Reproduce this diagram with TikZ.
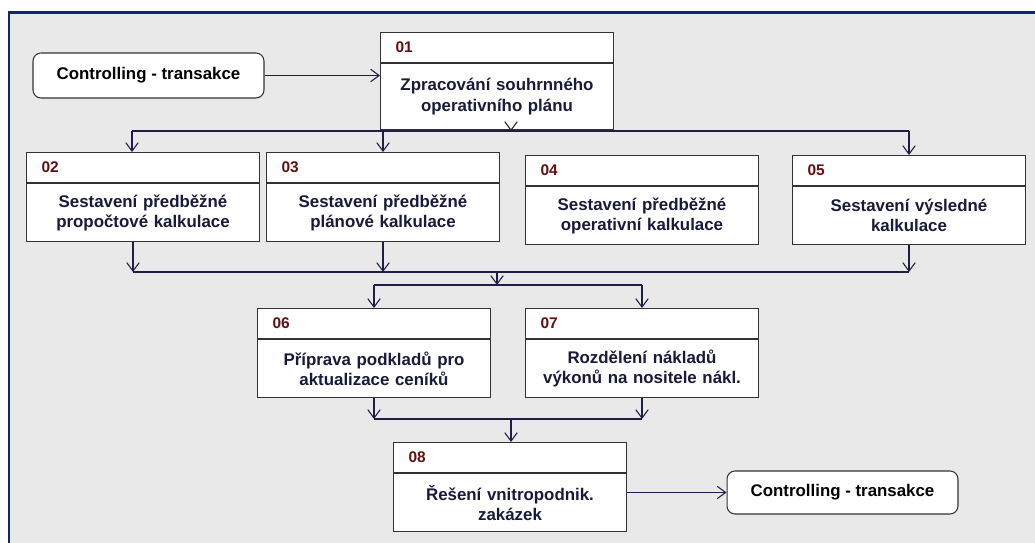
\documentclass[tikz,border=0pt]{standalone}
\usepackage{fontspec}
\setmainfont{Liberation Sans}
\usepackage{xcolor}
\usetikzlibrary{arrows.meta, positioning}
\definecolor{panelgray}{RGB}{233,233,233}
\definecolor{framenavy}{RGB}{16,40,105}
\definecolor{linenavy}{RGB}{30,30,70}
\definecolor{numred}{RGB}{100,15,15}
\definecolor{textnavy}{RGB}{25,25,60}

\begin{document}
\begin{tikzpicture}[x=0.02cm,y=-0.02cm,
  >={Straight Barb[length=1.7mm,width=2.5mm]},
  hdr/.style={draw=black!80,fill=white,anchor=north west,line width=0.6pt,
    minimum width=4.66cm,minimum height=0.6cm,text width=4.06cm,
    inner xsep=0.3cm,align=left,text=numred,
    font=\bfseries\fontsize{8.8}{10}\selectfont},
  bodybox/.style={draw=black!80,fill=white,line width=0.6pt,
    minimum width=4.66cm,minimum height=1.16cm,text width=4.4cm,
    inner xsep=0.13cm,align=center,text=textnavy,below=0pt of #1,
    font=\bfseries\fontsize{9.6}{11.4}\selectfont},
  ctrl/.style={draw=black!80,fill=white,rounded corners=0.16cm,line width=0.6pt,
    minimum width=4.62cm,minimum height=0.9cm,
    font=\bfseries\fontsize{9.6}{11}\selectfont},
  conn/.style={draw=linenavy,line width=0.6pt}]
  \useasboundingbox (0,0) rectangle (1035,543);
  \fill[panelgray] (9,13) rectangle (1035,543);
  \draw[framenavy,line width=1.7pt] (1035,13) -- (9,13) -- (9,543);

  \node[ctrl] (cL) at (148.5,75.5) {Controlling - transakce};
  \node[hdr] (h01) at (380,32) {01};
  \node[bodybox=h01,minimum height=1.32cm] (b01) {Zpracování souhrnného\\operativního plánu};

  \node[hdr] (h02) at (26,152) {02};
  \node[bodybox=h02] (b02) {Sestavení předběžné\\propočtové kalkulace};
  \node[hdr] (h03) at (266,152) {03};
  \node[bodybox=h03] (b03) {Sestavení předběžné\\plánové kalkulace};
  \node[hdr] (h04) at (525,155) {04};
  \node[bodybox=h04] (b04) {Sestavení předběžné\\operativní kalkulace};
  \node[hdr] (h05) at (792,155) {05};
  \node[bodybox=h05] (b05) {Sestavení výsledné\\kalkulace};

  \node[hdr] (h06) at (257,308) {06};
  \node[bodybox=h06] (b06) {Příprava podkladů pro\\aktualizace ceníků};
  \node[hdr] (h07) at (525,308) {07};
  \node[bodybox=h07] (b07) {Rozdělení nákladů\\výkonů na nositele nákl.};

  \node[hdr] (h08) at (393,442) {08};
  \node[bodybox=h08] (b08) {Řešení vnitropodnik.\\zakázek};
  \node[ctrl,minimum height=0.86cm] (cR) at (842.5,492.5) {Controlling - transakce};

  \coordinate (jA) at (511,131);
  \coordinate (busA) at (132,131);
  \coordinate (busB) at (133,272);
  \coordinate (jB) at (497,272);
  \coordinate (busC) at (497,285);
  \coordinate (busD) at (511,419);

  \draw[conn,->] (cL.east) -- (cL.east -| b01.west);
  \draw[conn,->] (b01.south -| jA) -- (jA);
  \draw[conn] (busA) -- (h05.north |- busA);
  \draw[conn,->] (busA) -- (busA |- h02.north);
  \draw[conn,->] (h03.north |- busA) -- (h03.north);
  \draw[conn,->] (h05.north |- busA) -- (h05.north);

  \draw[conn,->] (b02.south -| busB) -- (busB);
  \draw[conn,->] (b03.south) -- (b03.south |- busB);
  \draw[conn,->] (b05.south) -- (b05.south |- busB);
  \draw[conn] (busB) -- (b05.south |- busB);

  \draw[conn,->] (jB) -- (busC);
  \draw[conn] (h06.north |- busC) -- (h07.north |- busC);
  \draw[conn,->] (h06.north |- busC) -- (h06.north);
  \draw[conn,->] (h07.north |- busC) -- (h07.north);

  \draw[conn,->] (b06.south) -- (b06.south |- busD);
  \draw[conn,->] (b07.south) -- (b07.south |- busD);
  \draw[conn] (b06.south |- busD) -- (b07.south |- busD);
  \draw[conn,->] (busD) -- (busD |- h08.north);
  \draw[conn,->] (cR.west -| b08.east) -- (cR.west);
\end{tikzpicture}
\end{document}
